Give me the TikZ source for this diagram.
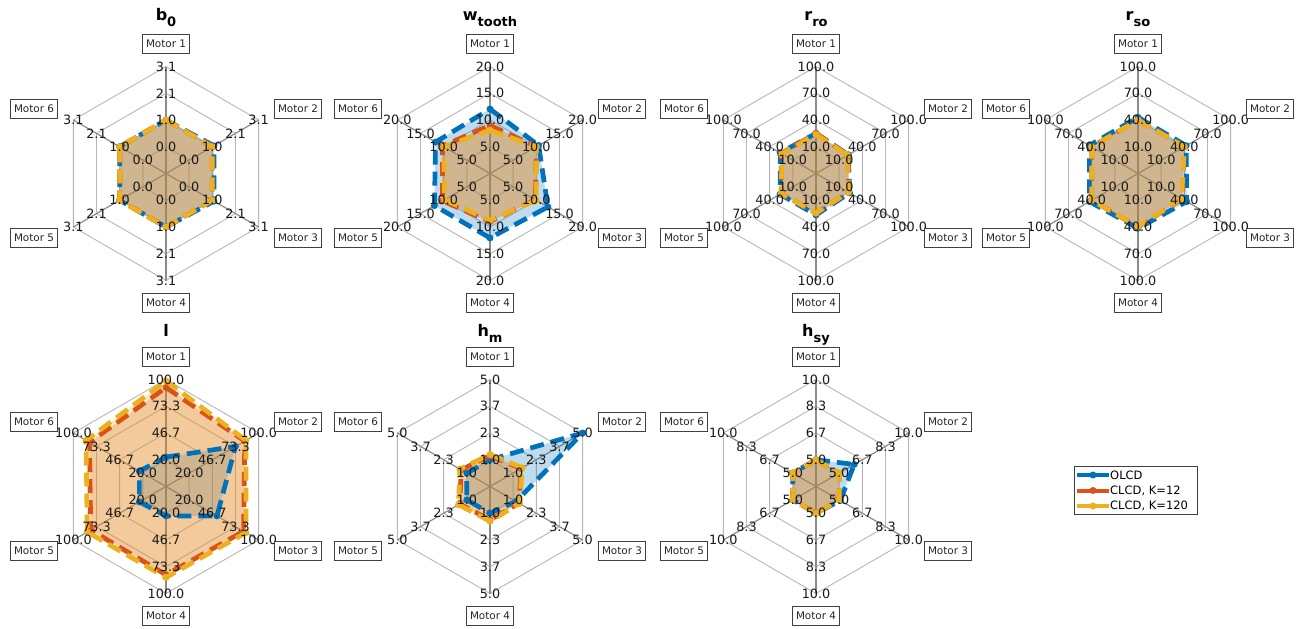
\documentclass[tikz,border=0pt]{standalone}
\usepackage{fontspec}
\setmainfont{DejaVu Sans}
\usetikzlibrary{calc}
\definecolor{cB}{RGB}{0,114,189}
\definecolor{cR}{RGB}{217,83,25}
\definecolor{cY}{RGB}{237,177,32}
\tikzset{
  ringline/.style={draw=black!28, line width=0.9pt},
  spoke/.style={draw=black!45, line width=1.2pt},
  tick/.style={font=\fontsize{12.8}{12.8}\selectfont, inner sep=0pt, text=black!90},
  motor/.style={draw=black!75, line width=0.8pt, fill=white, font=\fontsize{10.4}{10.4}\selectfont, inner xsep=3.8pt, inner ysep=0pt, minimum height=19.5pt, text=black!85},
  ttl/.style={font=\fontsize{16}{16}\selectfont\bfseries, anchor=base},
  serline/.style={line width=4.7pt, dash pattern=on 14pt off 7pt, line join=round},
  legtext/.style={font=\fontsize{11.5}{11.5}\selectfont, anchor=west, inner sep=1pt},
}
\def\R{107}
\newcommand\grd{%
  \foreach \k in {1,2,3,4}
    \draw[ringline] (-90:{\R*\k/4}) -- (-30:{\R*\k/4}) -- (30:{\R*\k/4}) -- (90:{\R*\k/4}) -- (150:{\R*\k/4}) -- (210:{\R*\k/4}) -- cycle;
  \foreach \a in {-90,-30,30,90,150,210}
    \draw[spoke] (0,0) -- (\a:\R);
}
% fill of one series
\newcommand\serf[7]{%
  \fill[#1, fill opacity=0.25] (-90:{\R*(#2+1)/4}) -- (-30:{\R*(#3+1)/4}) -- (30:{\R*(#4+1)/4}) -- (90:{\R*(#5+1)/4}) -- (150:{\R*(#6+1)/4}) -- (210:{\R*(#7+1)/4}) -- cycle;
}
% line and markers of one series
\newcommand\serd[7]{%
  \draw[#1, serline] (-90:{\R*(#2+1)/4}) -- (-30:{\R*(#3+1)/4}) -- (30:{\R*(#4+1)/4}) -- (90:{\R*(#5+1)/4}) -- (150:{\R*(#6+1)/4}) -- (210:{\R*(#7+1)/4}) -- cycle;
  \foreach \a/\v in {-90/#2,-30/#3,30/#4,90/#5,150/#6,210/#7}
    \fill[#1] (\a:{\R*(\v+1)/4}) circle[radius=3.5pt];
}
\newcommand\tks[5]{%
  \foreach \k/\lab in {0/#2,1/#3,2/#4,3/#5}
    \foreach \a in {-90,-30,30,90,150,210}
      \node[tick] (#1t\k a\a) at (\a:{\R*(\k+1)/4}) {\lab};
}
\newcommand\mot[1]{%
  \node[motor] (#1m1) at (0,-129.5) {Motor 1};
  \node[motor] (#1m2) at (132,-64.5) {Motor 2};
  \node[motor] (#1m3) at (132,64.5) {Motor 3};
  \node[motor] (#1m4) at (0,129.5) {Motor 4};
  \node[motor] (#1m5) at (-132,64.5) {Motor 5};
  \node[motor] (#1m6) at (-132,-64.5) {Motor 6};
}
\newcommand\sub[1]{\raisebox{-5.5pt}{\fontsize{13}{13}\selectfont #1}}
\begin{document}
\begin{tikzpicture}[x=1pt,y=-1pt]
\useasboundingbox (0,0) rectangle (1296,629);
\fill[white] (0,0) rectangle (1296,629);

% ---- b0
\begin{scope}[shift={(166,173.5)}]
  \grd
  \serf{cB}{1.0}{1.07}{1.07}{1.0}{1.0}{1.0}
  \serf{cR}{1.0}{1.0}{1.0}{1.0}{1.0}{1.0}
  \serf{cY}{1.0}{1.0}{1.0}{1.0}{1.0}{1.0}
  \serd{cB}{1.0}{1.07}{1.07}{1.0}{1.0}{1.0}
  \serd{cR}{1.0}{1.0}{1.0}{1.0}{1.0}{1.0}
  \serd{cY}{1.0}{1.0}{1.0}{1.0}{1.0}{1.0}
  \tks{A}{0.0}{1.0}{2.1}{3.1}
  \mot{A}
  \node[ttl] (Atitle) at (0,-153) {b\sub{0}};
\end{scope}

% ---- w_tooth
\begin{scope}[shift={(490,173.5)}]
  \grd
  \serf{cB}{1.41}{1.1}{1.5}{1.41}{1.4}{1.35}
  \serf{cR}{0.8}{1.0}{0.96}{0.8}{1.05}{1.05}
  \serf{cY}{0.62}{1.0}{1.0}{0.75}{0.96}{1.0}
  \serd{cB}{1.41}{1.1}{1.5}{1.41}{1.4}{1.35}
  \serd{cR}{0.8}{1.0}{0.96}{0.8}{1.05}{1.05}
  \serd{cY}{0.62}{1.0}{1.0}{0.75}{0.96}{1.0}
  \tks{B}{5.0}{10.0}{15.0}{20.0}
  \mot{B}
  \node[ttl] (Btitle) at (0,-153) {w\sub{tooth}};
\end{scope}

% ---- r_ro
\begin{scope}[shift={(816,173.5)}]
  \grd
  \serf{cB}{0.5}{0.4}{0.45}{0.55}{0.55}{0.55}
  \serf{cR}{0.5}{0.38}{0.4}{0.48}{0.5}{0.5}
  \serf{cY}{0.46}{0.37}{0.4}{0.48}{0.5}{0.47}
  \serd{cB}{0.5}{0.4}{0.45}{0.55}{0.55}{0.55}
  \serd{cR}{0.5}{0.38}{0.4}{0.48}{0.5}{0.5}
  \serd{cY}{0.46}{0.37}{0.4}{0.48}{0.5}{0.47}
  \tks{C}{10.0}{40.0}{70.0}{100.0}
  \mot{C}
  \node[ttl] (Ctitle) at (0,-153) {r\sub{ro}};
\end{scope}

% ---- r_so
\begin{scope}[shift={(1138,173.5)}]
  \grd
  \serf{cB}{1.1}{1.08}{1.1}{1.05}{1.1}{1.1}
  \serf{cR}{1.0}{1.0}{0.9}{1.0}{1.0}{1.0}
  \serf{cY}{1.0}{1.0}{0.88}{0.98}{1.0}{1.0}
  \serd{cB}{1.1}{1.08}{1.1}{1.05}{1.1}{1.1}
  \serd{cR}{1.0}{1.0}{0.9}{1.0}{1.0}{1.0}
  \serd{cY}{1.0}{1.0}{0.88}{0.98}{1.0}{1.0}
  \tks{D}{10.0}{40.0}{70.0}{100.0}
  \mot{D}
  \node[ttl] (Dtitle) at (0,-153) {r\sub{so}};
\end{scope}

% ---- l
\begin{scope}[shift={(166,486.5)}]
  \grd
  \serf{cB}{0.1}{2.0}{1.2}{0.1}{0.15}{0.15}
  \serf{cR}{2.7}{2.4}{2.35}{2.3}{2.25}{2.3}
  \serf{cY}{2.95}{2.45}{2.45}{2.4}{2.4}{2.45}
  \serd{cB}{0.1}{2.0}{1.2}{0.1}{0.15}{0.15}
  \serd{cR}{2.7}{2.4}{2.35}{2.3}{2.25}{2.3}
  \serd{cY}{2.95}{2.45}{2.45}{2.4}{2.4}{2.45}
  \tks{E}{20.0}{46.7}{73.3}{100.0}
  \mot{E}
  \node[ttl] (Etitle) at (0,-150) {l};
\end{scope}

% ---- h_m
\begin{scope}[shift={(490,486.5)}]
  \grd
  \serf{cB}{0.0}{3.0}{0.12}{0.0}{0.0}{0.0}
  \serf{cR}{0.15}{0.35}{0.25}{0.25}{0.3}{0.25}
  \serf{cY}{0.2}{0.4}{0.27}{0.3}{0.36}{0.3}
  \serd{cB}{0.0}{3.0}{0.12}{0.0}{0.0}{0.0}
  \serd{cR}{0.15}{0.35}{0.25}{0.25}{0.3}{0.25}
  \serd{cY}{0.2}{0.4}{0.27}{0.3}{0.36}{0.3}
  \tks{F}{1.0}{2.3}{3.7}{5.0}
  \mot{F}
  \node[ttl] (Ftitle) at (0,-150) {h\sub{m}};
\end{scope}

% ---- h_sy
\begin{scope}[shift={(816,486.5)}]
  \grd
  \serf{cB}{0.0}{0.65}{0.05}{0.0}{0.0}{0.0}
  \serf{cR}{0.0}{0.0}{0.0}{0.0}{0.0}{0.0}
  \serf{cY}{0.0}{0.0}{0.0}{0.0}{0.0}{0.0}
  \serd{cB}{0.0}{0.65}{0.05}{0.0}{0.0}{0.0}
  \serd{cR}{0.0}{0.0}{0.0}{0.0}{0.0}{0.0}
  \serd{cY}{0.0}{0.0}{0.0}{0.0}{0.0}{0.0}
  \tks{G}{5.0}{6.7}{8.3}{10.0}
  \mot{G}
  \node[ttl] (Gtitle) at (0,-150) {h\sub{sy}};
\end{scope}

% ---- legend
\node[draw=black!75, line width=0.8pt, fill=white, minimum width=123pt, minimum height=48pt, inner sep=0pt] (leg) at (1135.5,490) {};
\coordinate (l1a) at (1077,475); \coordinate (l1b) at (1109,475);
\coordinate (l2a) at (1077,490.5); \coordinate (l2b) at (1109,490.5);
\coordinate (l3a) at (1077,506); \coordinate (l3b) at (1109,506);
\draw[cB, line width=4pt] (l1a) -- (l1b); \fill[cB] ($(l1a)!0.5!(l1b)$) circle[radius=3.5pt];
\draw[cR, line width=4pt] (l2a) -- (l2b); \fill[cR] ($(l2a)!0.5!(l2b)$) circle[radius=3.5pt];
\draw[cY, line width=4pt] (l3a) -- (l3b); \fill[cY] ($(l3a)!0.5!(l3b)$) circle[radius=3.5pt];
\node[legtext] (lt1) at (l1b) {OLCD};
\node[legtext] (lt2) at (l2b) {CLCD, K=12};
\node[legtext] (lt3) at (l3b) {CLCD, K=120};
\end{tikzpicture}
\end{document}
